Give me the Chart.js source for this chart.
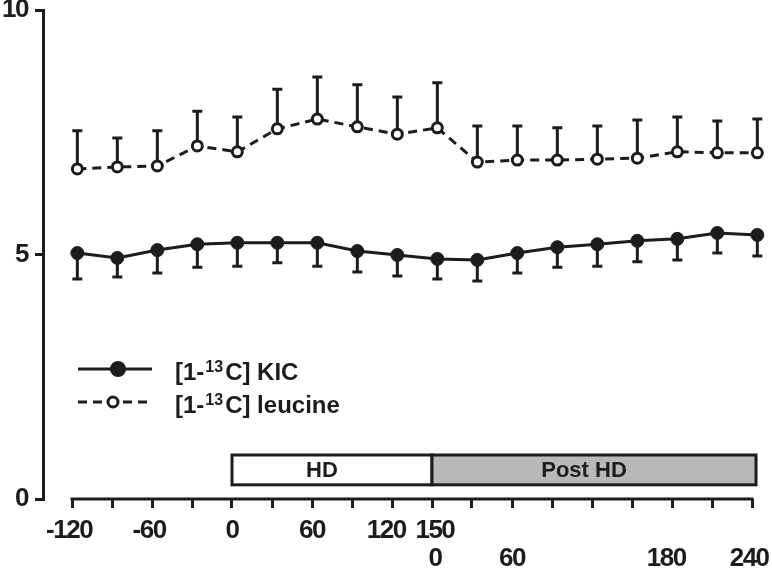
<!DOCTYPE html>
<html>
<head>
<meta charset="utf-8">
<script src="https://cdn.jsdelivr.net/npm/chart.js@4/dist/chart.umd.min.js"></script>
<style>
  html, body { margin: 0; padding: 0; background: #fff; }
  #wrap { width: 772px; height: 571px; position: relative; }
</style>
</head>
<body>
<div id="wrap"><canvas id="chart"></canvas></div>
<script>
// sampling times (min, continuous from -120 through post HD 240 = 390)
const times = [-116, -86, -56, -26, 4, 34, 64, 94, 124, 154, 184, 214, 244, 274, 304, 334, 364, 394];

// [1-13C] KIC, mean and lower SD bar
const kic      = [5.03, 4.93, 5.09, 5.21, 5.24, 5.24, 5.24, 5.07, 4.99, 4.91, 4.89, 5.03, 5.15, 5.21, 5.28, 5.32, 5.44, 5.40];
const kicLower = [4.50, 4.54, 4.62, 4.74, 4.76, 4.83, 4.76, 4.64, 4.56, 4.50, 4.46, 4.62, 4.74, 4.76, 4.85, 4.89, 5.03, 4.97];

// [1-13C] leucine, mean and upper SD bar
const leucine      = [6.75, 6.79, 6.81, 7.22, 7.10, 7.57, 7.77, 7.61, 7.46, 7.59, 6.89, 6.93, 6.93, 6.95, 6.97, 7.10, 7.08, 7.08];
const leucineUpper = [7.53, 7.38, 7.53, 7.93, 7.81, 8.38, 8.63, 8.47, 8.22, 8.51, 7.63, 7.63, 7.59, 7.63, 7.75, 7.81, 7.73, 7.77];

// x ticks every 30 min, labels (second row = post HD time)
const xTicks = [-120, -90, -60, -30, 0, 30, 60, 90, 120, 150, 180, 210, 240, 270, 300, 330, 360, 390];
const xTickLabels = {
  '-120': ['-120 '], '-60': ['-60 '], '0': ['0'], '60': ['60'], '120': ['120  '],
  '150': [' 150', ' 0'], '210': ['', '60'], '330': ['', '180  '], '390': ['', '240 ']
};

// phase bars
const phases = [
  { label: 'HD', start: 0, end: 150, fill: '#ffffff' },
  { label: 'Post HD', start: 150, end: 393, fill: '#b8b8b8' }
];

const INK = '#1c1c1c';
const FONT = "'Liberation Sans', Arial, Helvetica, sans-serif";

const tightText = {
  id: 'tightText',
  beforeDraw(chart) { chart.ctx.letterSpacing = '-1.5px'; }
};

const errorBars = {
  id: 'errorBars',
  beforeDatasetsDraw(chart) {
    const { ctx, scales: { x, y } } = chart;
    ctx.save();
    ctx.strokeStyle = INK;
    ctx.lineWidth = 3;
    const cap = 5;
    const bars = [[kic, kicLower], [leucine, leucineUpper]];
    bars.forEach(([mean, end]) => {
      times.forEach((t, i) => {
        const px = x.getPixelForValue(t);
        const y0 = y.getPixelForValue(mean[i]);
        const y1 = y.getPixelForValue(end[i]);
        ctx.beginPath();
        ctx.moveTo(px, y0);
        ctx.lineTo(px, y1);
        ctx.moveTo(px - cap, y1);
        ctx.lineTo(px + cap, y1);
        ctx.stroke();
      });
    });
    ctx.restore();
  }
};

const extras = {
  id: 'extras',
  afterDraw(chart) {
    const { ctx, scales: { x, y }, chartArea } = chart;
    ctx.save();
    ctx.letterSpacing = '0px';
    // x axis line
    ctx.strokeStyle = INK;
    ctx.lineWidth = 3;
    ctx.beginPath();
    ctx.moveTo(x.getPixelForValue(xTicks[0]) - 1.5, chartArea.bottom);
    ctx.lineTo(x.getPixelForValue(xTicks[xTicks.length - 1]) + 1.5, chartArea.bottom);
    ctx.stroke();

    // phase bars
    const top = y.getPixelForValue(0.90), bot = y.getPixelForValue(0.29);
    phases.forEach(p => {
      const x0 = x.getPixelForValue(p.start), x1 = x.getPixelForValue(p.end);
      ctx.fillStyle = p.fill;
      ctx.fillRect(x0, top, x1 - x0, bot - top);
      ctx.strokeRect(x0, top, x1 - x0, bot - top);
      ctx.fillStyle = INK;
      ctx.font = 'bold 22px ' + FONT;
      ctx.textAlign = 'center';
      ctx.textBaseline = 'middle';
      ctx.fillText(p.label, (x0 + x1) / 2 - 10, (top + bot) / 2 + 1);
    });

    // legend
    const rows = [
      { y: 369, name: ' KIC', dash: [], filled: true, dot: 118 },
      { y: 402, name: ' leucine', dash: [9, 6], filled: false, dot: 113 }
    ];
    rows.forEach(r => {
      ctx.setLineDash(r.dash);
      ctx.lineWidth = 3;
      ctx.beginPath();
      ctx.moveTo(78, r.y);
      ctx.lineTo(152, r.y);
      ctx.stroke();
      ctx.setLineDash([]);
      ctx.beginPath();
      ctx.arc(r.dot, r.y, r.filled ? 6.5 : 5, 0, Math.PI * 2);
      ctx.fillStyle = r.filled ? INK : '#fff';
      ctx.fill();
      ctx.stroke();
      ctx.fillStyle = INK;
      ctx.textAlign = 'left';
      ctx.textBaseline = 'alphabetic';
      let tx = 175;
      const base = r.y + 11;
      ctx.font = 'bold 24px ' + FONT;
      ctx.fillText('[1-', tx, base);
      tx += ctx.measureText('[1-').width + 1;
      ctx.font = 'bold 16px ' + FONT;
      ctx.fillText('13', tx, base - 8);
      tx += ctx.measureText('13').width + 2;
      ctx.font = 'bold 24px ' + FONT;
      ctx.fillText('C]' + r.name, tx, base);
    });
    ctx.restore();
  }
};

new Chart(document.getElementById('chart'), {
  type: 'line',
  data: {
    datasets: [
      {
        label: '[1-13C] KIC',
        data: times.map((t, i) => ({ x: t, y: kic[i] })),
        borderColor: INK,
        borderWidth: 3,
        pointRadius: 6.5,
        pointBackgroundColor: INK,
        pointBorderColor: INK,
        pointBorderWidth: 1,
        tension: 0,
        clip: false
      },
      {
        label: '[1-13C] leucine',
        data: times.map((t, i) => ({ x: t, y: leucine[i] })),
        borderColor: INK,
        borderWidth: 3,
        borderDash: [9, 6],
        pointRadius: 5,
        pointBackgroundColor: '#ffffff',
        pointBorderColor: INK,
        pointBorderWidth: 3,
        tension: 0,
        clip: false
      }
    ]
  },
  options: {
    responsive: true,
    maintainAspectRatio: false,
    animation: false,
    events: [],
    layout: { padding: { top: 10, right: 20, left: 0, bottom: 0 } },
    plugins: { legend: { display: false }, tooltip: { enabled: false } },
    scales: {
      x: {
        type: 'linear',
        min: -141.75,
        max: 390,
        afterBuildTicks(scale) { scale.ticks = xTicks.map(v => ({ value: v })); },
        afterFit(scale) { scale.height = 72; scale.paddingLeft = 0; scale.paddingRight = 0; },
        border: { display: false },
        grid: { drawOnChartArea: false, drawTicks: true, tickLength: 9, lineWidth: 3, color: INK },
        ticks: {
          autoSkip: false,
          maxRotation: 0,
          padding: 9,
          color: INK,
          font: { family: FONT, size: 26, weight: 'bold', lineHeight: 1.08 },
          callback: v => xTickLabels[String(v)] || ''
        }
      },
      y: {
        min: 0,
        max: 10,
        afterFit(scale) { scale.width = 43; scale.paddingTop = 0; scale.paddingBottom = 0; },
        border: { display: true, width: 3, color: INK },
        grid: { drawOnChartArea: false, drawTicks: true, tickLength: 8, lineWidth: 3, color: INK },
        ticks: {
          stepSize: 5,
          padding: 7,
          color: INK,
          font: { family: FONT, size: 26, weight: 'bold' }
        }
      }
    }
  },
  plugins: [tightText, errorBars, extras]
});
</script>
</body>
</html>
